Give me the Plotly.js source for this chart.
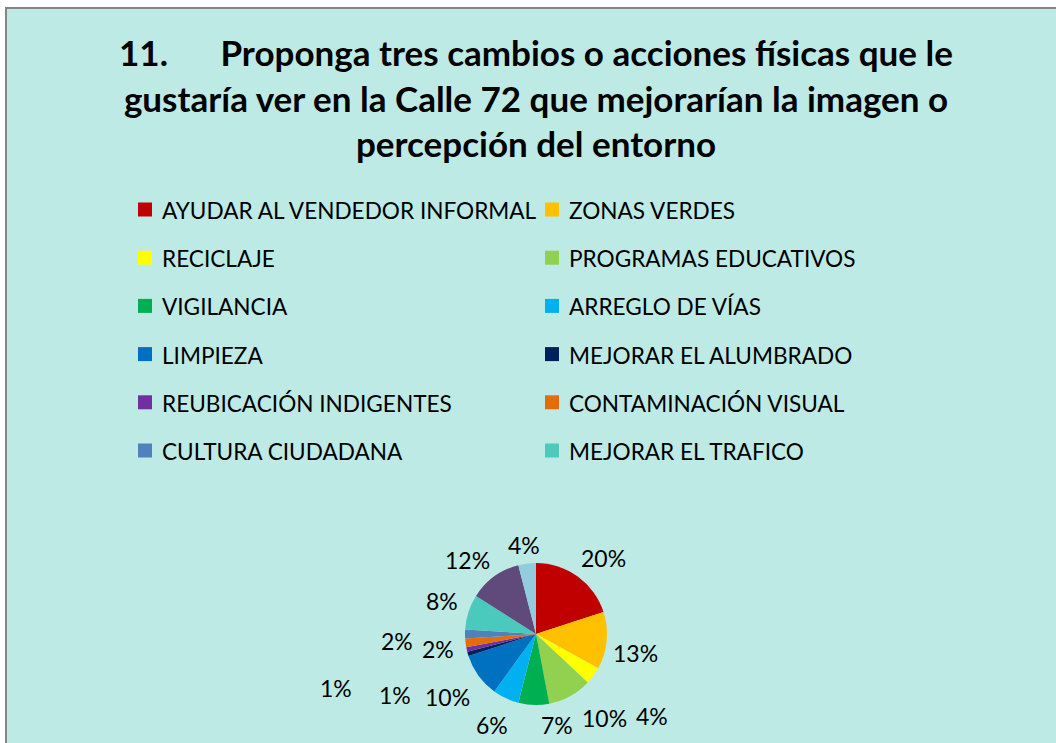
<!DOCTYPE html>
<html>
<head>
<meta charset="utf-8">
<script src="https://cdn.plot.ly/plotly-3.0.1.min.js"></script>
<style>
  html, body { margin: 0; padding: 0; background: #ffffff; }
  #chart { width: 1056px; height: 743px; }
</style>
</head>
<body>
<div id="chart"></div>
<script>
// ---- Data ----
const categories = [
  "AYUDAR AL VENDEDOR INFORMAL", "ZONAS VERDES", "RECICLAJE", "PROGRAMAS EDUCATIVOS",
  "VIGILANCIA", "ARREGLO DE VÍAS", "LIMPIEZA", "MEJORAR EL ALUMBRADO",
  "REUBICACIÓN INDIGENTES", "CONTAMINACIÓN VISUAL", "CULTURA CIUDADANA", "MEJORAR EL TRAFICO",
  "OTROS 1", "OTROS 2"
];
const percentValues = [20, 13, 4, 10, 7, 6, 10, 1, 1, 2, 2, 8, 12, 4];
const legendCount = 12; // entries visible in the reference legend

// ---- Styles ----
const sliceColors = [
  "#C00000", "#FFC000", "#FFFF00", "#92D050",
  "#00B050", "#00B0F0", "#0070C0", "#002060",
  "#7030A0", "#E46C0A", "#4F81BD", "#4BC9BC",
  "#604A7B", "#93CDDD"
];
const W = 1056, H = 743;
const px = x => x / W;
const py = y => 1 - y / H;
const FONT = "Lato, 'Open Sans', sans-serif";
const BG = "#BEEAE5";

// label centres (pixels) for each slice percentage, as placed in the reference
const labelPos = [
  [603, 558], [635, 653], [652, 716], [604, 718],
  [557, 725], [492, 725], [447, 697], [395, 695],
  [336, 688], [438, 649], [397, 641], [442, 601],
  [467, 560], [524, 545]
];

const total = percentValues.reduce((a, b) => a + b, 0);

const trace = {
  type: "pie",
  labels: categories,
  values: percentValues,
  sort: false,
  direction: "clockwise",
  rotation: 0,
  textinfo: "none",
  hoverinfo: "label+percent",
  showlegend: false,
  marker: { colors: sliceColors, line: { width: 0 } },
  domain: { x: [px(465), px(607)], y: [py(705), py(563)] }
};

const annotations = [];
const shapes = [];

// chart area background with grey frame (left/top visible)
shapes.push({
  type: "rect", xref: "paper", yref: "paper",
  x0: px(6), x1: px(W + 10), y0: py(H + 10), y1: py(8),
  fillcolor: BG, line: { color: "#858585", width: 2 }, layer: "below"
});

// percentage labels
percentValues.forEach((v, i) => {
  annotations.push({
    xref: "paper", yref: "paper",
    x: px(labelPos[i][0]), y: py(labelPos[i][1]),
    xanchor: "center", yanchor: "middle",
    text: Math.round(v / total * 100) + "%",
    showarrow: false,
    font: { family: FONT, size: 23, color: "#000000" }
  });
});

// legend (two columns)
const colSquareX = [138, 545];
const colTextX = [160, 567];
const rowY0 = 209.5, rowStep = 48.2, sq = 14;
for (let i = 0; i < legendCount; i++) {
  const col = i % 2, row = Math.floor(i / 2);
  const cy = rowY0 + row * rowStep;
  shapes.push({
    type: "rect", xref: "paper", yref: "paper",
    x0: px(colSquareX[col]), x1: px(colSquareX[col] + sq),
    y0: py(cy + sq / 2), y1: py(cy - sq / 2),
    fillcolor: sliceColors[i], line: { width: 0 }
  });
  annotations.push({
    xref: "paper", yref: "paper",
    x: px(colTextX[col]), y: py(cy + 1),
    xanchor: "left", yanchor: "middle",
    text: categories[i], showarrow: false,
    font: { family: FONT, size: 22.6, color: "#000000" }
  });
}

const titleLines = [
  "11.\u2003\u2003Proponga tres cambios o acciones físicas que le",
  "gustaría ver en la Calle 72 que mejorarían la imagen o",
  "percepción del entorno"
];

const layout = {
  width: W, height: H,
  margin: { l: 0, r: 0, t: 0, b: 0 },
  paper_bgcolor: "#ffffff",
  title: {
    text: titleLines.map(s => '<span style="font-size:35px">' + s + '</span>').join("<br>"),
    font: { family: FONT, size: 35, color: "#000000", weight: "bold" },
    x: px(536), xanchor: "center",
    y: py(66), yanchor: "top", yref: "container"
  },
  shapes: shapes,
  annotations: annotations
};

Plotly.newPlot("chart", [trace], layout, { displayModeBar: false, staticPlot: false });
</script>
</body>
</html>
